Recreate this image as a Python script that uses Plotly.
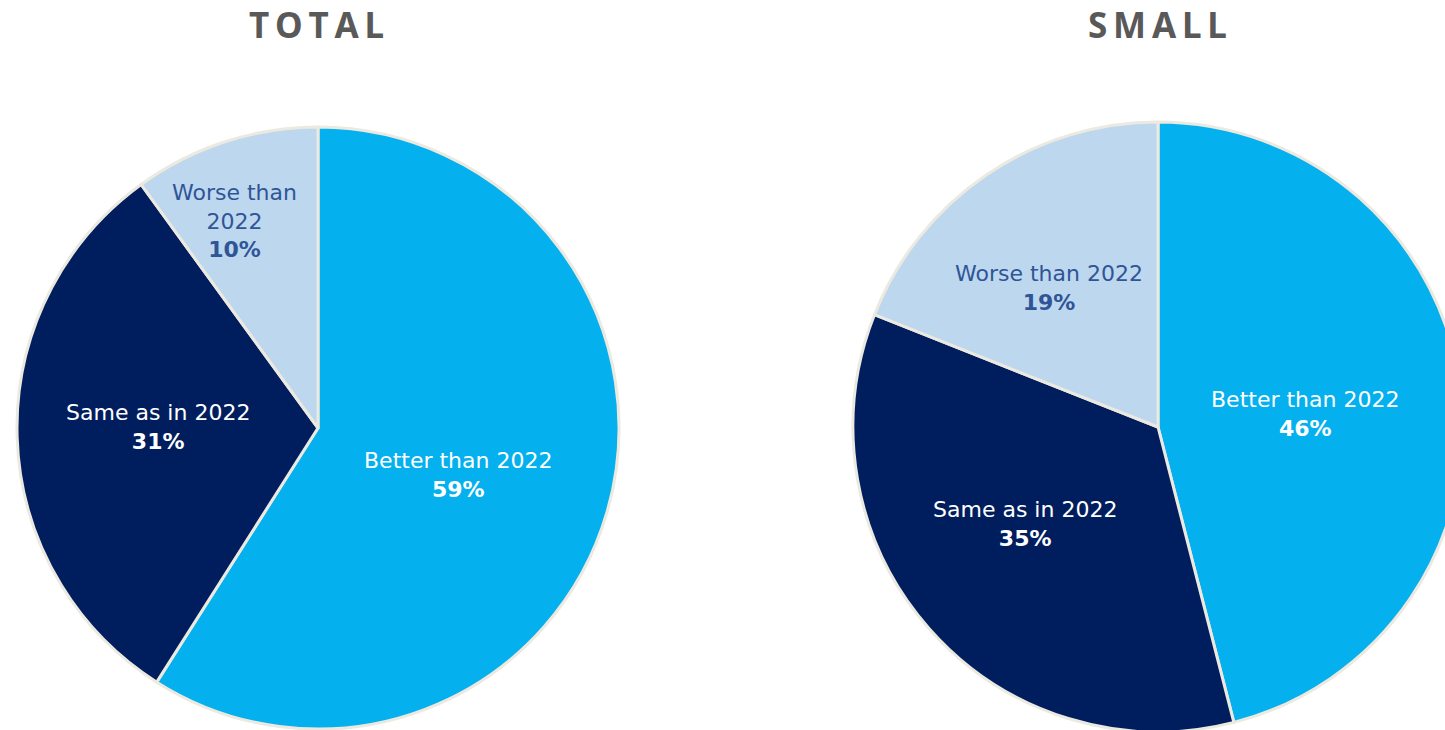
import math
import plotly.graph_objects as go

# ---- data ----
categories = ["Better than 2022", "Same as in 2022", "Worse than 2022"]
total_values = [59, 31, 10]
small_values = [46, 35, 19]
chart_titles = ["TOTAL", "SMALL"]
total_label_text = ["Better than 2022", "Same as in 2022", "Worse than<br>2022"]
small_label_text = ["Better than 2022", "Same as in 2022", "Worse than 2022"]

# ---- styles / layout ----
W, H = 1470, 740
slice_colors = ["#05B0EE", "#001E5E", "#BDD7EE"]
label_colors = ["#FFFFFF", "#FFFFFF", "#2F5597"]
edge_color = "#ECE9E0"
pies = [
    dict(cx=318, cy=428, r=301, values=total_values, texts=total_label_text,
         rf=[0.49, 0.53, 0.74], dang=[2.5, 2.0, -4.0], title_x=316),
    dict(cx=1158, cy=427, r=305, values=small_values, texts=small_label_text,
         rf=[0.484, 0.54, 0.58], dang=[2.3, 5.2, -4.0], title_x=1157),
]
label_font = "DejaVu Sans"

fig = go.Figure()
annotations = []
for i, p in enumerate(pies):
    fig.add_trace(go.Pie(
        labels=categories,
        values=p["values"],
        sort=False,
        direction="clockwise",
        rotation=0,
        marker=dict(colors=slice_colors, line=dict(color=edge_color, width=3)),
        textinfo="none",
        hoverinfo="label+percent",
        showlegend=False,
        domain=dict(x=[(p["cx"] - p["r"]) / W, (p["cx"] + p["r"]) / W],
                    y=[1 - (p["cy"] + p["r"]) / H, 1 - (p["cy"] - p["r"]) / H]),
    ))
    tot = sum(p["values"])
    cum = 0
    for j, v in enumerate(p["values"]):
        mid = (cum + v / 2) / tot * 2 * math.pi + math.radians(p["dang"][j])
        cum += v
        rr = p["rf"][j] * p["r"]
        px = p["cx"] + rr * math.sin(mid)
        py = p["cy"] - rr * math.cos(mid)
        annotations.append(dict(
            x=px / W, y=1 - py / H, xref="paper", yref="paper",
            xanchor="center", yanchor="middle", showarrow=False,
            text=f"{p['texts'][j]}<br><b>{v}%</b>",
            font=dict(family=label_font, size=22, color=label_colors[j]),
            align="center",
        ))
    annotations.append(dict(
        x=p["title_x"] / W, y=1 - 25 / H, xref="paper", yref="paper",
        xanchor="center", yanchor="middle", showarrow=False,
        text="<b>" + "\u2009".join(chart_titles[i]) + "</b>",
        font=dict(family="Noto Sans", size=35, color="#595959"),
    ))

fig.update_layout(
    width=W, height=H,
    margin=dict(l=0, r=0, t=0, b=0),
    paper_bgcolor="white", plot_bgcolor="white",
    annotations=annotations,
)

fig.write_html(
    "out.html",
    config={"displayModeBar": False},
    post_script="document.body.style.margin='0';document.body.style.overflow='hidden';",
)
